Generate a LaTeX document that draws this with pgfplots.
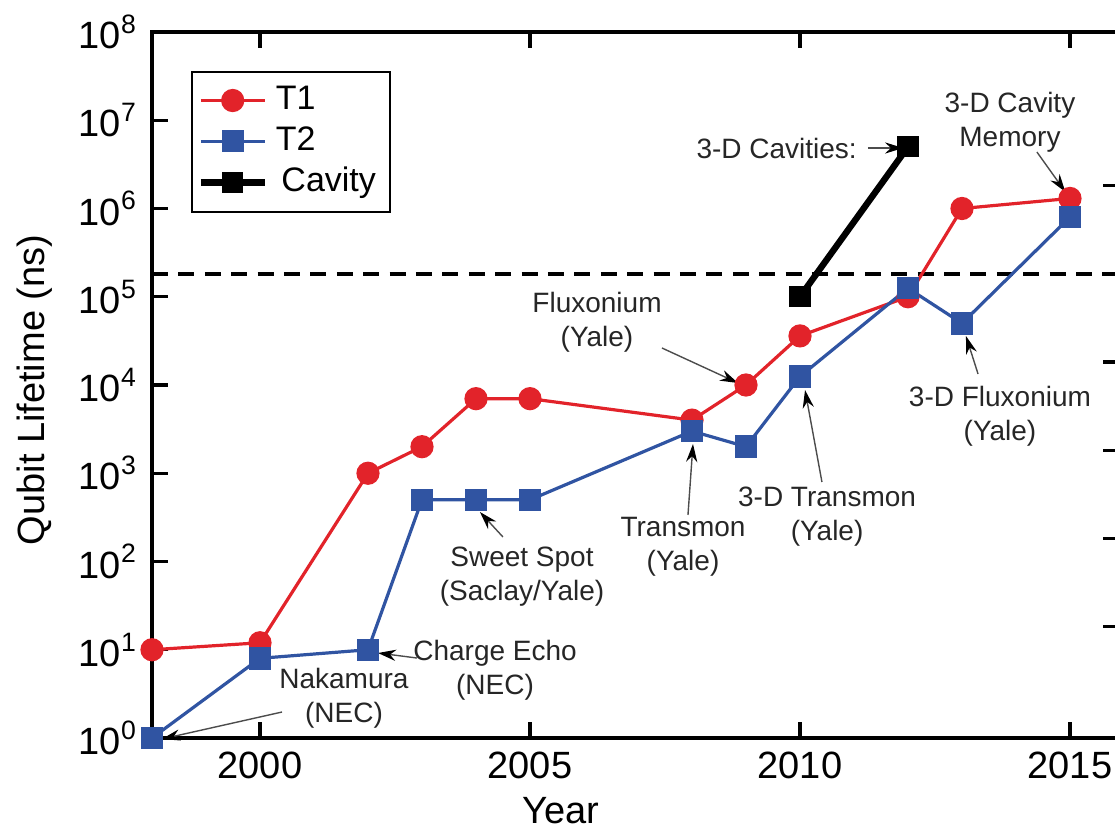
\documentclass[border=0pt]{standalone}
\usepackage{pgfplots}
\pgfplotsset{compat=1.18}
\usepackage{fontspec}
\setmainfont{Liberation Sans}
\usetikzlibrary{arrows.meta}
\definecolor{tred}{RGB}{226,35,42}
\definecolor{tblue}{RGB}{48,84,162}

\begin{document}
\begin{tikzpicture}[
    note/.style={font=\fontsize{7}{8.5}\selectfont, align=center, text=black!85},
    ptr/.style={draw=black!70, line width=0.35pt, -{Stealth[length=4.5pt,width=2.8pt,black]}}]
\begin{axis}[
    scale only axis, width=241.65pt, height=176.5pt,
    at={(0,0)}, anchor=south west,
    xmin=1998, xmax=2015.9, ymode=log, ymin=1, ymax=1e8,
    tick align=inside, major tick length=4pt,
    axis line style={line width=0.9pt}, tick style={black, line width=0.8pt},
    minor y tick style={draw=none},
    clip=false,
    xtick={2000,2005,2010,2015},
    xticklabels={2000,2005,2010,2015},
    ytick={1,10,100,1000,1e4,1e5,1e6,1e7,1e8},
    yticklabels={10\textsuperscript{0},10\textsuperscript{1},10\textsuperscript{2},10\textsuperscript{3},10\textsuperscript{4},10\textsuperscript{5},10\textsuperscript{6},10\textsuperscript{7},10\textsuperscript{8}},
    ytick pos=left,
    ticklabel style={font=\fontsize{9.5}{11}\selectfont},
    xlabel={Year}, ylabel={Qubit Lifetime (ns)},
    label style={font=\fontsize{9.5}{11}\selectfont},
    xlabel style={at={(axis description cs:0.423,-0.121)}, anchor=base},
    ylabel style={at={(axis description cs:-0.121,0.493)}, anchor=center},
    legend style={at={(axis description cs:0.04,0.945)}, anchor=north west,
        font=\fontsize{8.5}{9}\selectfont, draw=black, line width=0.5pt,
        row sep=-1.2pt, inner xsep=1.5pt, inner ysep=1.5pt},
    legend image code/.code={
        \draw[mark repeat=2, mark phase=2, #1] plot coordinates {(0cm,0cm) (0.28cm,0cm) (0.56cm,0cm)};},
    legend cell align=left]

\addplot[black, line width=0.9pt, dash pattern=on 4pt off 2.6pt, forget plot]
    coordinates {(1998,1.82e5) (2015.9,1.82e5)};

\addplot[tred, line width=0.8pt, mark=*, mark size=2.5pt, mark options={fill=tred, draw=tred}]
    coordinates {(1998,10) (2000,12) (2002,1000) (2003,2000) (2004,7000) (2005,7000)
                 (2008,4000) (2009,10000) (2010,36000) (2012,1e5) (2013,1e6) (2015,1.3e6)};
\addlegendentry{T1}
\addplot[tblue, line width=0.8pt, mark=square*, mark size=2.4pt, mark options={fill=tblue, draw=tblue}]
    coordinates {(1998,1) (2000,8) (2002,10) (2003,500) (2004,500) (2005,500)
                 (2008,3000) (2009,2000) (2010,12500) (2012,1.25e5) (2013,5e4) (2015,8e5)};
\addlegendentry{T2}
\addplot[black, line width=1.6pt, mark=square*, mark size=2.4pt, mark options={fill=black, line width=0.5pt}]
    coordinates {(2010,1e5) (2012,5e6)};
\addlegendentry{\,Cavity}

\node[note, anchor=east] at (rel axis cs:0.7438,0.8357) {3-D Cavities:};
\draw[ptr] (rel axis cs:0.7407,0.8357) -- (rel axis cs:0.7770,0.8357);
\node[note] at (rel axis cs:0.8876,0.8725) {3-D Cavity\\Memory};
\draw[ptr] (rel axis cs:0.9155,0.8300) -- (rel axis cs:0.9450,0.7734);
\node[note] at (rel axis cs:0.4604,0.589) {Fluxonium\\(Yale)};
\draw[ptr] (rel axis cs:0.5276,0.5524) -- (rel axis cs:0.6063,0.5028);
\node[note] at (rel axis cs:0.8773,0.456) {3-D Fluxonium\\(Yale)};
\draw[ptr] (rel axis cs:0.8546,0.5156) -- (rel axis cs:0.8421,0.5694);
\node[note] at (rel axis cs:0.6984,0.313) {3-D Transmon\\(Yale)};
\draw[ptr] (rel axis cs:0.6931,0.3626) -- (rel axis cs:0.6756,0.4929);
\node[note] at (rel axis cs:0.5494,0.2705) {Transmon\\(Yale)};
\draw[ptr] (rel axis cs:0.5545,0.3159) -- (rel axis cs:0.5597,0.4164);
\node[note] at (rel axis cs:0.3828,0.2290) {Sweet Spot\\(Saclay/Yale)};
\draw[ptr] (rel axis cs:0.3631,0.2847) -- (rel axis cs:0.3393,0.3201);
\node[note] at (rel axis cs:0.3549,0.0963) {Charge Echo\\(NEC)};
\draw[ptr] (rel axis cs:0.2741,0.1133) -- (rel axis cs:0.2338,0.1204);
\node[note] at (rel axis cs:0.1986,0.0567) {Nakamura\\(NEC)};
\draw[ptr] (rel axis cs:0.1345,0.0368) -- (rel axis cs:0.0103,-0.0014);
\end{axis}

\begin{axis}[
    scale only axis, width=241.65pt, height=176.5pt,
    at={(0,0)}, anchor=south west,
    xmin=1998, xmax=2015.9, ymode=log, ymin=1, ymax=1e8,
    tick align=inside, major tick length=4pt,
    axis line style={line width=0.9pt}, tick style={black, line width=0.8pt},
    minor y tick style={draw=none},
    axis x line=none, axis y line*=right,
    ytick={18.2,182,1820,18200,1.82e5,1.82e6},
    yticklabels={}]
\addplot[draw=none, forget plot] coordinates {(2000,10)};
\end{axis}

\pgfresetboundingbox
\useasboundingbox (-38pt,-24.5pt) rectangle (240.75pt,184.5pt);
\end{tikzpicture}
\end{document}
